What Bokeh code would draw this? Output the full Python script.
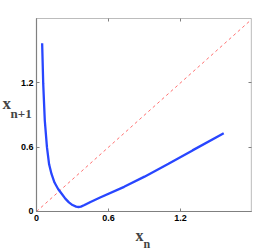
from bokeh.plotting import figure
from bokeh.models import FixedTicker, Label, Range1d, BoxAnnotation, LinearAxis
from bokeh.embed import file_html
from bokeh.resources import INLINE

# data
xn = [0.047, 0.056, 0.069, 0.087, 0.105, 0.125, 0.15, 0.18, 0.21, 0.24, 0.27, 0.30,
      0.33, 0.35, 0.37, 0.40, 0.45, 0.53, 0.73, 0.90, 1.10, 1.30, 1.56]
xn1 = [1.57, 1.19, 0.85, 0.60, 0.44, 0.35, 0.27, 0.21, 0.165, 0.12, 0.085, 0.06,
       0.045, 0.042, 0.045, 0.06, 0.088, 0.13, 0.23, 0.325, 0.445, 0.57, 0.73]
diag = [0.0, 1.79]
ticks = [0, 0.6, 1.2]
tick_labels = {0: "0", 0.6: "0.6", 1.2: "1.2"}
x_lim = (0.0, 1.79)
y_lim = (0.0, 1.8)

# the visible axes box sits inside a frame that fills the page, so the axis
# titles (with subscripts) can be placed as labels around it
p = figure(frame_width=277, frame_height=249, output_backend="svg", toolbar_location=None,
           x_range=Range1d(-0.30, 2.008), y_range=Range1d(-0.3545, 1.968),
           x_axis_type=None, y_axis_type=None, min_border=0,
           background_fill_color="white", border_fill_color="white")
p.grid.visible = False
p.outline_line_color = None

p.add_layout(BoxAnnotation(left=x_lim[0], right=x_lim[1], bottom=y_lim[0], top=y_lim[1],
                           fill_alpha=0, line_color="#222222", line_width=1,
                           level="underlay"))


def make_axis(loc_value, bounds, labels):
    ax = LinearAxis(fixed_location=loc_value, bounds=bounds, ticker=FixedTicker(ticks=ticks),
                    major_tick_in=3, major_tick_out=0, major_tick_line_color="#808080",
                    minor_tick_line_color=None)
    if labels:
        ax.major_label_overrides = tick_labels
        ax.axis_line_color = "#808080"
        ax.axis_line_width = 1.2
        ax.major_label_text_font = "Liberation Sans"
        ax.major_label_text_font_style = "bold"
        ax.major_label_text_font_size = "9px"
        ax.major_label_text_color = "black"
    else:
        ax.axis_line_color = None
        ax.major_label_text_color = None
    return ax


xb = make_axis(y_lim[0], x_lim, True)
xb.major_label_standoff = 4
yl = make_axis(x_lim[0], y_lim, True)
yl.major_label_standoff = 3
p.add_layout(xb, "below")
p.add_layout(yl, "left")
p.add_layout(make_axis(y_lim[1], x_lim, False), "above")
p.add_layout(make_axis(x_lim[1], y_lim, False), "right")

p.line(diag, diag, line_color="#ff7070", line_width=1, line_dash="3 3")
p.line(xn, xn1, line_color="#2846ff", line_width=2.3)

serif = "Liberation Serif"
p.add_layout(Label(x=2, y=146, x_units="screen", y_units="screen", text="x",
                   text_font=serif, text_font_style="bold", text_font_size="17px",
                   text_baseline="alphabetic"))
p.add_layout(Label(x=10, y=136, x_units="screen", y_units="screen", text="n+1",
                   text_font=serif, text_font_style="bold", text_font_size="13px",
                   text_baseline="alphabetic"))
p.add_layout(Label(x=135, y=14.5, x_units="screen", y_units="screen", text="x",
                   text_font=serif, text_font_style="bold", text_font_size="16px",
                   text_baseline="alphabetic"))
p.add_layout(Label(x=143, y=6, x_units="screen", y_units="screen", text="n",
                   text_font=serif, text_font_style="bold", text_font_size="12px",
                   text_baseline="alphabetic"))

open("out.html", "w").write(file_html(p, INLINE))
